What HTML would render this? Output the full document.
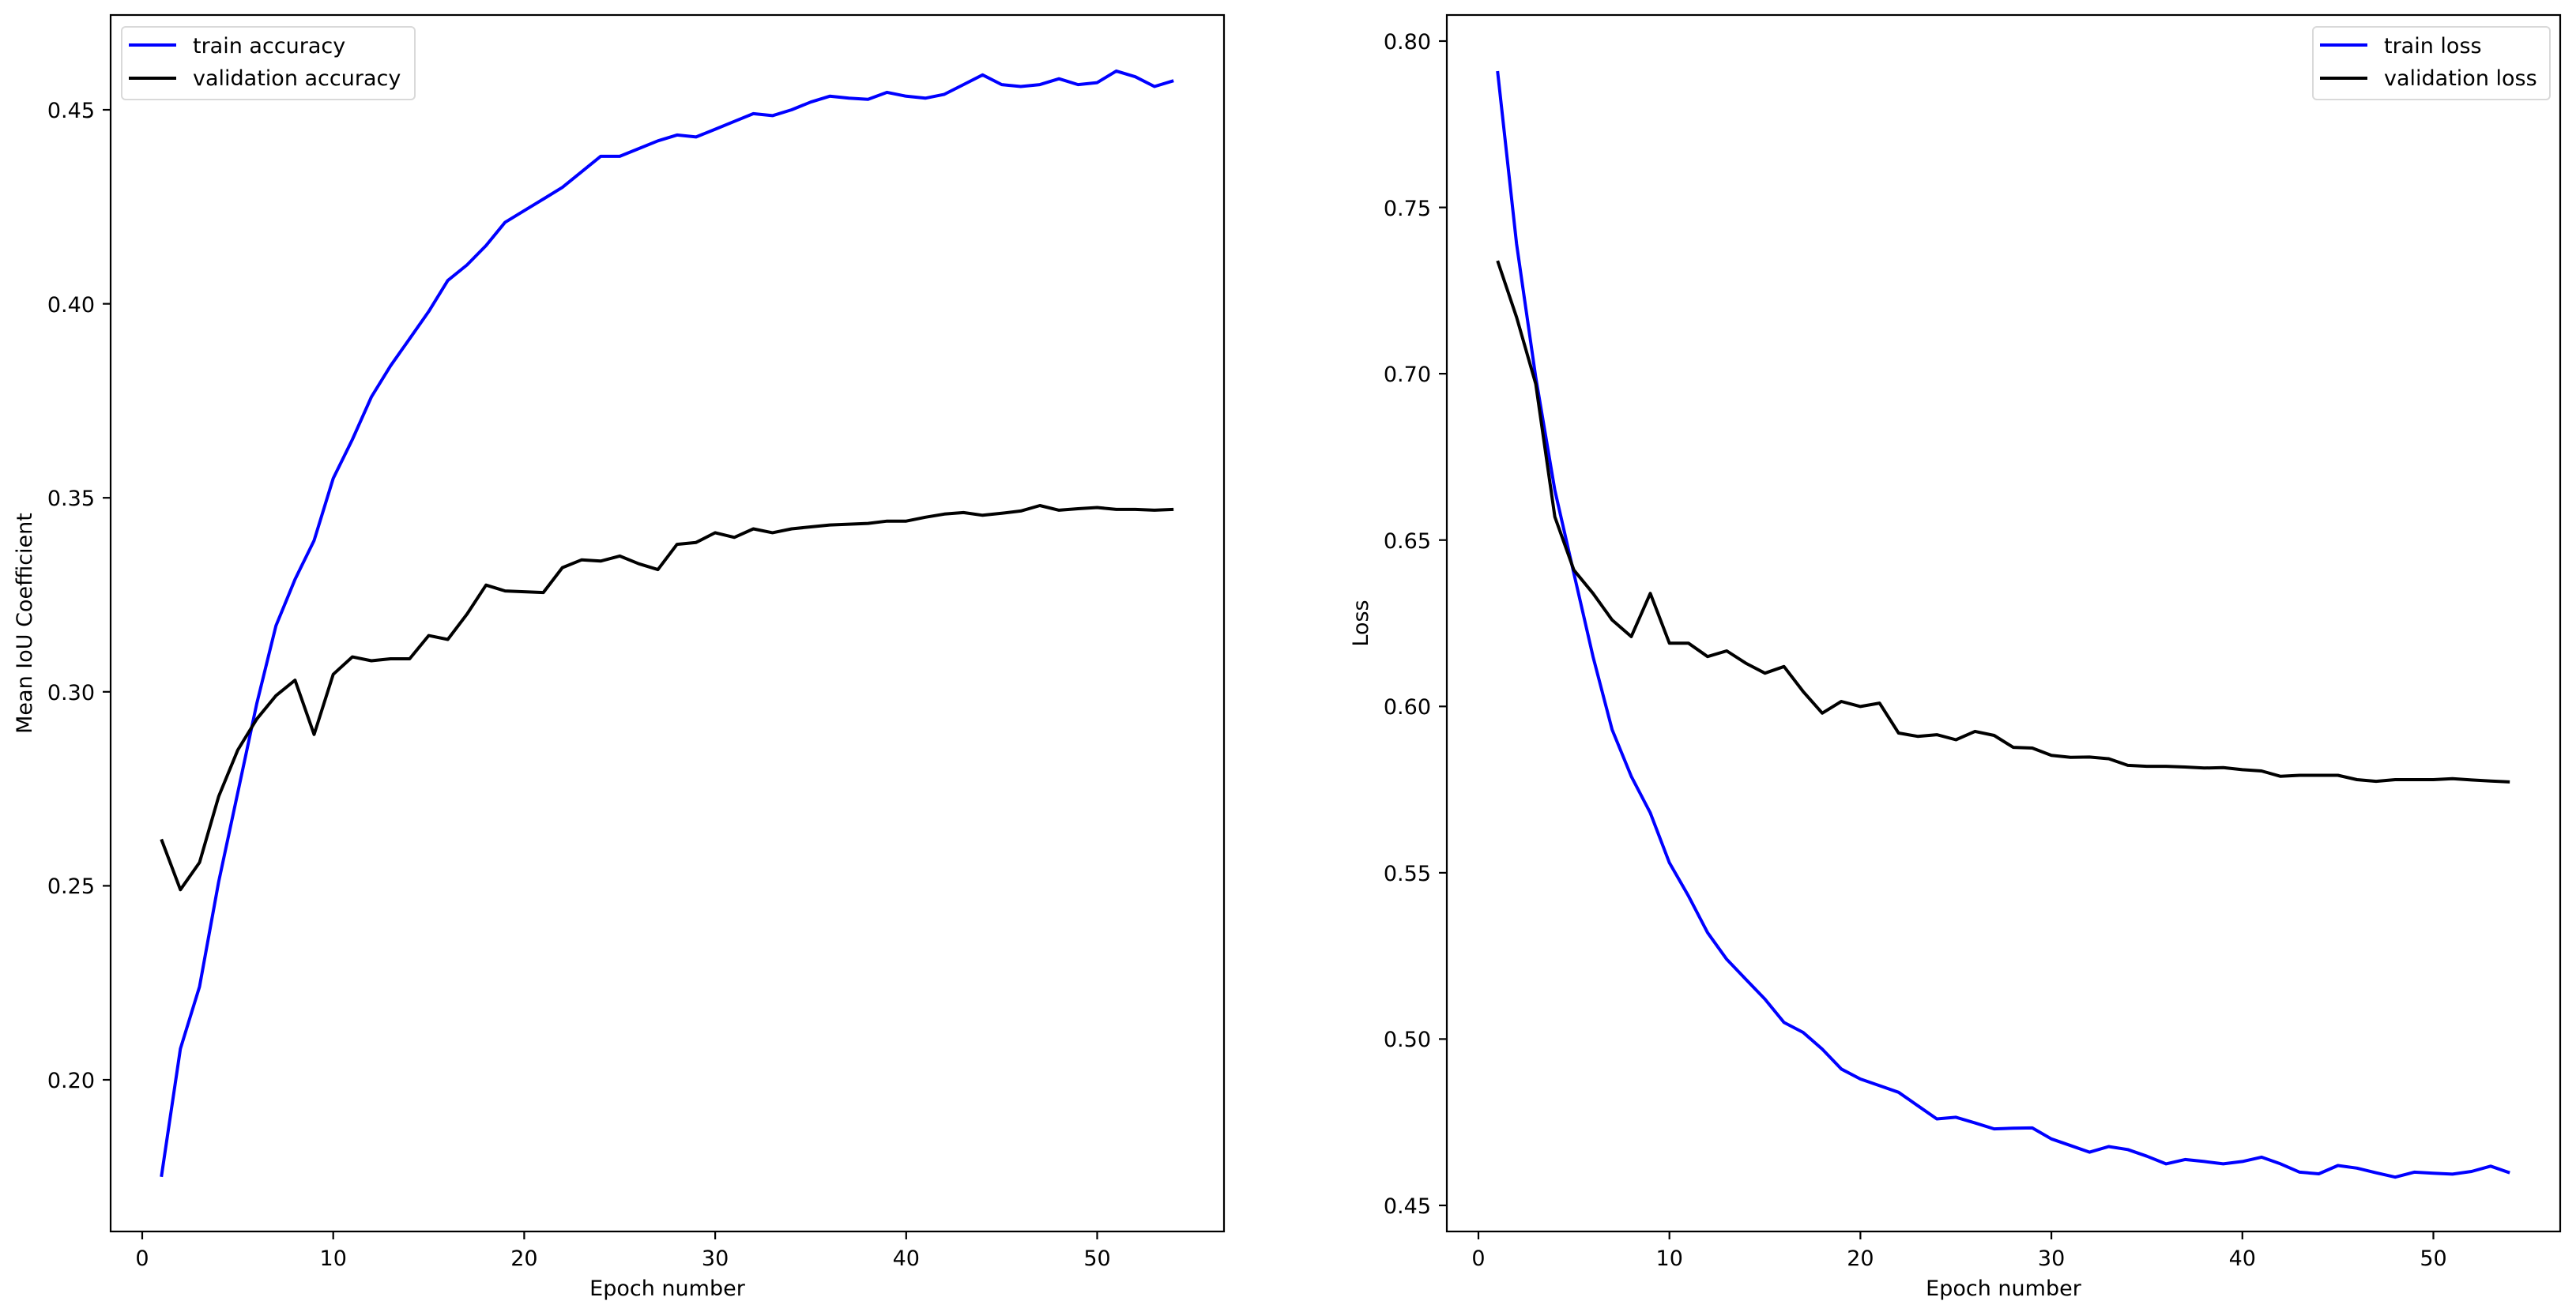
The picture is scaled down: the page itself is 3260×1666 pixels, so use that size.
<!DOCTYPE html>
<html><head><meta charset="utf-8"><style>
html,body{margin:0;padding:0;background:#fff;}
svg{display:block;}
text{font-family:"DejaVu Sans","Liberation Sans",sans-serif;font-size:27px;fill:#000;}
</style></head><body>
<svg id="s" width="3260" height="1666" viewBox="0 0 3260 1666" xmlns="http://www.w3.org/2000/svg">
<rect width="3260" height="1666" fill="#fff"/>
<g id="lines"></g>
<!-- left axes -->
<rect x="140" y="19" width="1409" height="1540" fill="none" stroke="#000" stroke-width="2.2"/>
<g stroke="#000" stroke-width="2.2">
<line x1="130" x2="140" y1="1367" y2="1367"/><line x1="130" x2="140" y1="1121.4" y2="1121.4"/>
<line x1="130" x2="140" y1="875.8" y2="875.8"/><line x1="130" x2="140" y1="630.2" y2="630.2"/>
<line x1="130" x2="140" y1="384.6" y2="384.6"/><line x1="130" x2="140" y1="139" y2="139"/>
<line x1="180" x2="180" y1="1559" y2="1569"/><line x1="421.7" x2="421.7" y1="1559" y2="1569"/>
<line x1="663.4" x2="663.4" y1="1559" y2="1569"/><line x1="905.1" x2="905.1" y1="1559" y2="1569"/>
<line x1="1146.8" x2="1146.8" y1="1559" y2="1569"/><line x1="1388.5" x2="1388.5" y1="1559" y2="1569"/>
</g>
<g text-anchor="end">
<text x="120" y="1377">0.20</text><text x="120" y="1131">0.25</text><text x="120" y="886">0.30</text>
<text x="120" y="640">0.35</text><text x="120" y="395">0.40</text><text x="120" y="149">0.45</text>
</g>
<g text-anchor="middle">
<text x="180" y="1602">0</text><text x="421.7" y="1602">10</text><text x="663.4" y="1602">20</text>
<text x="905.1" y="1602">30</text><text x="1146.8" y="1602">40</text><text x="1388.5" y="1602">50</text>
<text x="844.5" y="1640">Epoch number</text>
<text transform="translate(40,789) rotate(-90)">Mean IoU Coefficient</text>
</g>
<!-- right axes -->
<rect x="1831" y="19" width="1409" height="1540" fill="none" stroke="#000" stroke-width="2.2"/>
<g stroke="#000" stroke-width="2.2">
<line x1="1821" x2="1831" y1="1526" y2="1526"/><line x1="1821" x2="1831" y1="1315.4" y2="1315.4"/>
<line x1="1821" x2="1831" y1="1104.9" y2="1104.9"/><line x1="1821" x2="1831" y1="894.3" y2="894.3"/>
<line x1="1821" x2="1831" y1="683.7" y2="683.7"/><line x1="1821" x2="1831" y1="473.1" y2="473.1"/>
<line x1="1821" x2="1831" y1="262.6" y2="262.6"/><line x1="1821" x2="1831" y1="52" y2="52"/>
<line x1="1871" x2="1871" y1="1559" y2="1569"/><line x1="2112.7" x2="2112.7" y1="1559" y2="1569"/>
<line x1="2354.4" x2="2354.4" y1="1559" y2="1569"/><line x1="2596.1" x2="2596.1" y1="1559" y2="1569"/>
<line x1="2837.8" x2="2837.8" y1="1559" y2="1569"/><line x1="3079.5" x2="3079.5" y1="1559" y2="1569"/>
</g>
<g text-anchor="end">
<text x="1811" y="1536">0.45</text><text x="1811" y="1325">0.50</text><text x="1811" y="1115">0.55</text>
<text x="1811" y="904">0.60</text><text x="1811" y="694">0.65</text><text x="1811" y="483">0.70</text>
<text x="1811" y="273">0.75</text><text x="1811" y="62">0.80</text>
</g>
<g text-anchor="middle">
<text x="1871" y="1602">0</text><text x="2112.7" y="1602">10</text><text x="2354.4" y="1602">20</text>
<text x="2596.1" y="1602">30</text><text x="2837.8" y="1602">40</text><text x="3079.5" y="1602">50</text>
<text x="2535.5" y="1640">Epoch number</text>
<text transform="translate(1731,789) rotate(-90)">Loss</text>
</g>
<!-- legends -->
<rect x="154" y="34" width="371" height="92" rx="5" fill="#fff" fill-opacity="0.8" stroke="#d9d9d9" stroke-width="2"/>
<line x1="163" x2="223" y1="57" y2="57" stroke="#0000ff" stroke-width="4"/>
<line x1="163" x2="223" y1="99" y2="99" stroke="#000" stroke-width="4"/>
<text x="244" y="67">train accuracy</text><text x="244" y="108">validation accuracy</text>
<rect x="2927" y="34" width="300" height="92" rx="5" fill="#fff" fill-opacity="0.8" stroke="#d9d9d9" stroke-width="2"/>
<line x1="2936" x2="2996" y1="57" y2="57" stroke="#0000ff" stroke-width="4"/>
<line x1="2936" x2="2996" y1="99" y2="99" stroke="#000" stroke-width="4"/>
<text x="3017" y="67">train loss</text><text x="3017" y="108">validation loss</text>
</svg>
<script>
var ta=[0.175,0.208,0.224,0.251,0.274,0.297,0.317,0.329,0.339,0.355,0.365,0.376,0.384,0.391,0.398,0.406,0.410,0.415,0.421,0.424,0.427,0.430,0.434,0.438,0.438,0.440,0.442,0.4435,0.443,0.445,0.447,0.449,0.4485,0.450,0.452,0.4535,0.453,0.4527,0.4545,0.4535,0.453,0.454,0.4565,0.459,0.4565,0.456,0.4565,0.458,0.4565,0.457,0.460,0.4585,0.456,0.4575];
var va=[0.262,0.249,0.256,0.273,0.285,0.293,0.299,0.303,0.289,0.3045,0.309,0.308,0.3085,0.3085,0.3145,0.3135,0.320,0.3275,0.326,0.3258,0.3256,0.332,0.334,0.3337,0.335,0.333,0.3315,0.338,0.3385,0.341,0.3398,0.342,0.341,0.342,0.3425,0.343,0.3432,0.3434,0.344,0.344,0.345,0.3458,0.3462,0.3455,0.346,0.3466,0.348,0.3468,0.3472,0.3475,0.347,0.347,0.3468,0.347];
var tl=[0.791,0.739,0.699,0.665,0.640,0.615,0.593,0.579,0.568,0.553,0.543,0.532,0.524,0.518,0.512,0.505,0.502,0.497,0.491,0.488,0.486,0.484,0.480,0.476,0.4765,0.4748,0.473,0.4732,0.4733,0.470,0.468,0.466,0.4677,0.4668,0.4648,0.4625,0.4638,0.4632,0.4625,0.4632,0.4645,0.4625,0.460,0.4595,0.462,0.4612,0.4598,0.4585,0.46,0.4597,0.4594,0.4602,0.4618,0.4598];
var vl=[0.734,0.717,0.697,0.657,0.641,0.634,0.626,0.621,0.634,0.619,0.619,0.615,0.6167,0.613,0.610,0.612,0.6045,0.598,0.6015,0.600,0.601,0.592,0.591,0.5915,0.590,0.5925,0.5913,0.5877,0.5875,0.5853,0.5847,0.5848,0.5843,0.5823,0.582,0.582,0.5818,0.5815,0.5816,0.581,0.5806,0.579,0.5793,0.5793,0.5793,0.578,0.5775,0.578,0.578,0.578,0.5783,0.5779,0.5776,0.5773];
function pl(d,x0,fy,col){var p=d.map(function(v,i){return (x0+(i+1)*24.17).toFixed(1)+","+fy(v).toFixed(1)}).join(" ");
return '<polyline fill="none" stroke="'+col+'" stroke-width="4" stroke-linejoin="round" points="'+p+'"/>';}
var L=function(v){return 1367-(v-0.20)*4912;}, R=function(v){return 1526-(v-0.45)*4211;};
document.getElementById("lines").innerHTML=pl(ta,180,L,"#0000ff")+pl(va,180,L,"#000")+pl(tl,1871,R,"#0000ff")+pl(vl,1871,R,"#000");
</script>
</body></html>
